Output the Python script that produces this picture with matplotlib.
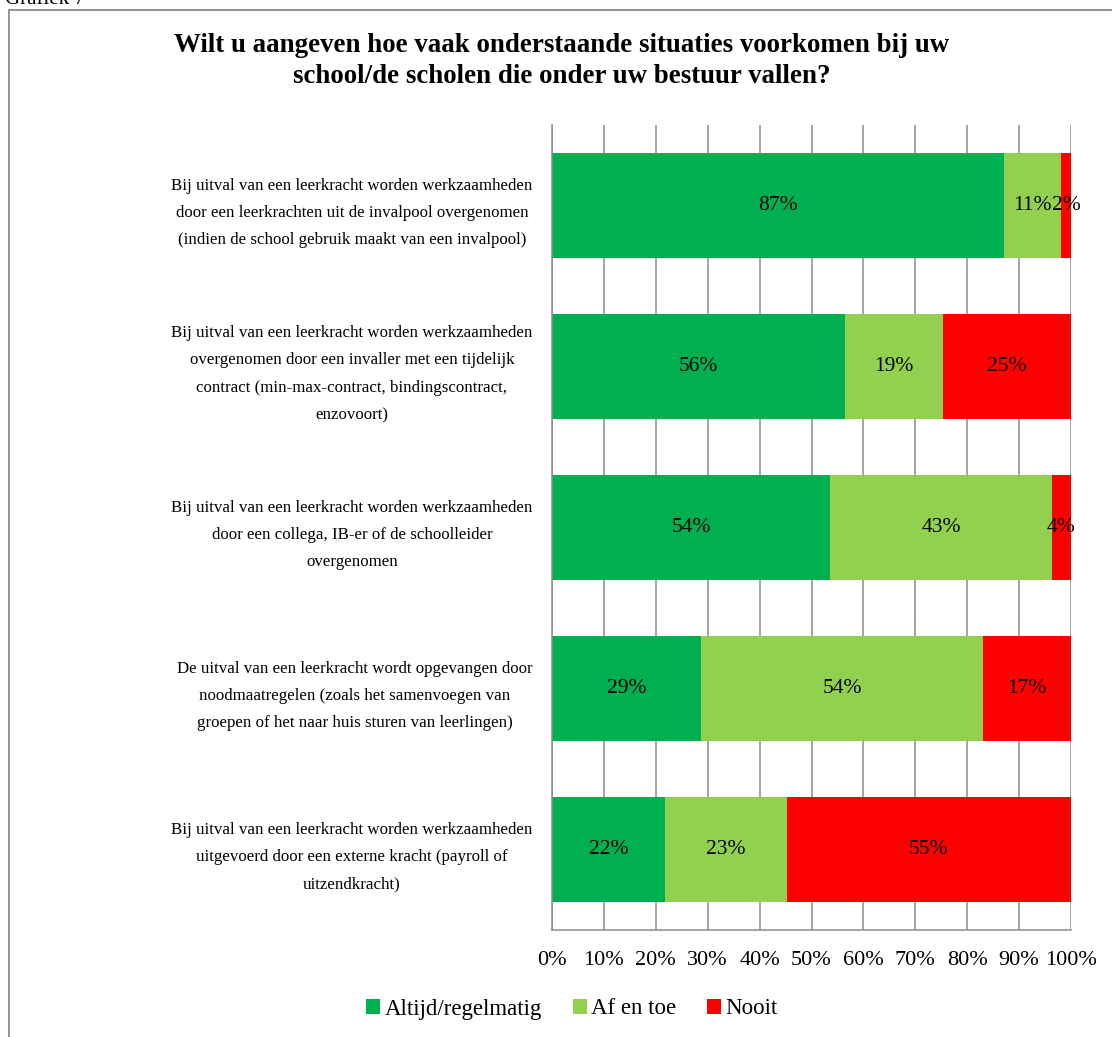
import matplotlib.pyplot as plt
from matplotlib.patches import Rectangle, Patch

plt.rcParams['font.family'] = ['Liberation Serif', 'DejaVu Serif']

categories = [
    'Bij uitval van een leerkracht worden werkzaamheden\ndoor een leerkrachten uit de invalpool overgenomen\n(indien de school gebruik maakt van een invalpool)',
    'Bij uitval van een leerkracht worden werkzaamheden\novergenomen door een invaller met een tijdelijk\ncontract (min-max-contract, bindingscontract,\nenzovoort)',
    'Bij uitval van een leerkracht worden werkzaamheden\ndoor een collega, IB-er of de schoolleider\novergenomen',
    'De uitval van een leerkracht wordt opgevangen door\nnoodmaatregelen (zoals het samenvoegen van\ngroepen of het naar huis sturen van leerlingen)',
    'Bij uitval van een leerkracht worden werkzaamheden\nuitgevoerd door een externe kracht (payroll of\nuitzendkracht)',
]
altijd = [87.1, 56.4, 53.6, 28.7, 21.8]
af_en_toe = [11.0, 18.9, 42.7, 54.4, 23.4]
nooit = [1.9, 24.7, 3.7, 16.9, 54.8]
series_names = ['Altijd/regelmatig', 'Af en toe', 'Nooit']
colors = ['#00B050', '#92D050', '#FF0000']

title = 'Wilt u aangeven hoe vaak onderstaande situaties voorkomen bij uw\nschool/de scholen die onder uw bestuur vallen?'

fig = plt.figure(figsize=(11.12, 10.37), dpi=100)
ax = fig.add_axes([552 / 1112, 1 - 930 / 1037, 519 / 1112, 805 / 1037])

ypos = list(range(len(categories)))
left = [0] * len(categories)
for vals, name, col in zip([altijd, af_en_toe, nooit], series_names, colors):
    ax.barh(ypos, vals, left=left, height=0.65, color=col, label=name, zorder=2)
    for y, l, v in zip(ypos, left, vals):
        ax.text(l + v / 2, y, f'{v:.0f}%', ha='center', va='center', fontsize=15.5, zorder=3)
    left = [a + b for a, b in zip(left, vals)]

ax.set_xlim(0, 100)
ax.set_ylim(len(categories) - 0.5, -0.5)
ax.set_xticks(range(0, 101, 10))
ax.set_xticklabels([f'{t}%' for t in range(0, 101, 10)], fontsize=16)
ax.set_yticks(ypos)
ax.set_yticklabels(categories, fontsize=12.2, multialignment='center', linespacing=1.94)
ax.tick_params(axis='both', length=0)
ax.tick_params(axis='y', pad=14)
ax.tick_params(axis='x', pad=15)
ax.xaxis.grid(True, color='#8c8c8c', linewidth=1.1, zorder=0)
ax.set_axisbelow(True)
for s in ['top', 'right']:
    ax.spines[s].set_visible(False)
for s in ['left', 'bottom']:
    ax.spines[s].set_color('#8c8c8c')
    ax.spines[s].set_linewidth(1.1)

fig.text(562 / 1112, 1 - 61 / 1037, title, ha='center', va='center', fontsize=19.4,
         fontweight='bold', linespacing=1.3)

handles = [Patch(facecolor=c, label=n) for c, n in zip(colors, series_names)]
fig.legend(handles=handles, loc='center', bbox_to_anchor=(572 / 1112, 1 - 1009 / 1037),
           ncol=3, frameon=False, fontsize=16.5, handlelength=0.6, handleheight=0.6,
           handletextpad=0.2, columnspacing=1.35)

# frame around the chart (runs off the right and bottom of the image)
fig.patches.append(Rectangle((9 / 1112, -0.1), 1.2, 1.1 - 10 / 1037, transform=fig.transFigure,
                             fill=False, edgecolor='#8c8c8c', linewidth=1.3))
fig.text(5 / 1112, 1 - 4 / 1037, 'Grafiek 7', ha='left', va='baseline', fontsize=15)

fig.savefig('out.png', dpi=100)
